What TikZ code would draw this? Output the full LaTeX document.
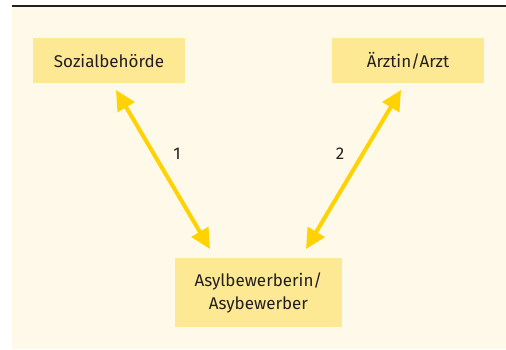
\documentclass[tikz,border=0pt]{standalone}
\usepackage{fontspec}
\setmainfont{Fira Sans}
\usetikzlibrary{arrows.meta}
\definecolor{bgc}{HTML}{FEF9E8}
\definecolor{boxc}{HTML}{FDE993}
\definecolor{arrc}{HTML}{FFD200}
\definecolor{txtc}{HTML}{231F20}
\tikzset{
  box/.style={fill=boxc, draw=none, text=txtc, font=\fontsize{17}{23}\selectfont, align=center, inner sep=0pt},
  link/.style={draw=arrc, line width=4pt, {Triangle[length=20pt,width=19pt]}-{Triangle[length=20pt,width=19pt]}},
  lbl/.style={text=txtc, font=\fontsize{17}{20}\selectfont}
}
\begin{document}
\begin{tikzpicture}[x=1pt,y=-1pt]
\useasboundingbox (0,0) rectangle (506,349);
\fill[bgc] (12,7) rectangle (506,349);
\draw[line width=2.5pt, txtc] (12,6) -- (506,6);
\node[box, minimum width=152pt, minimum height=45pt] (soz) at (109,60.5) {Sozialbehörde};
\node[box, minimum width=152pt, minimum height=45pt] (arzt) at (408,60.5) {Ärztin/Arzt};
\node[box, minimum width=167pt, minimum height=69pt] (asyl) at (258.5,292.5) {Asylbewerberin/\\Asybewerber};
\coordinate (a1) at (116,90);
\coordinate (b1) at (210,249);
\coordinate (a2) at (401,90);
\coordinate (b2) at (306,249);
\draw[link] (a1) -- (b1);
\draw[link] (a2) -- (b2);
\node[lbl] (l1) at (177,154) {1};
\node[lbl] (l2) at (340,154) {2};
\end{tikzpicture}
\end{document}
